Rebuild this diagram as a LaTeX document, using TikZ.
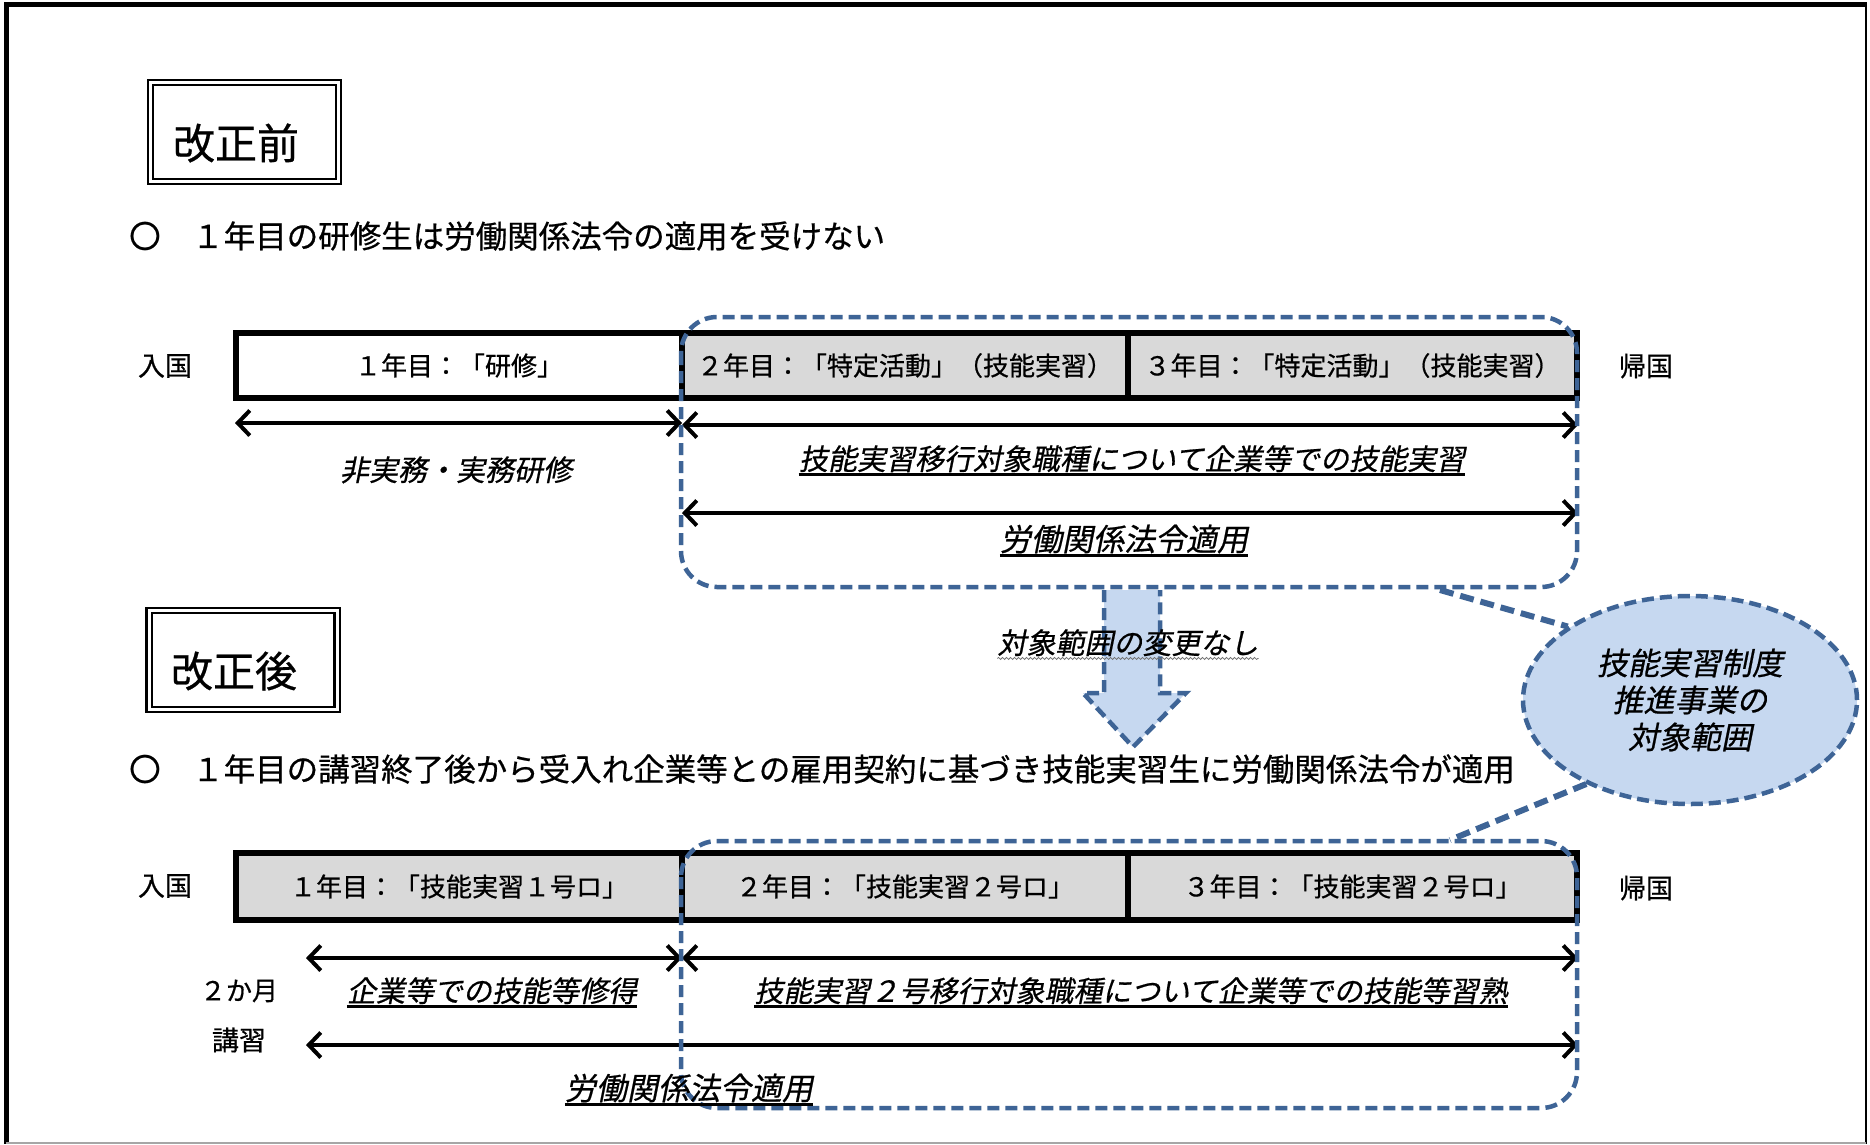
\documentclass[tikz,border=0pt]{standalone}
\usepackage{fontspec}
\setmainfont[FakeBold=0.6]{Noto Sans CJK JP}
\newfontfamily\jpit[FakeSlant=0.2,FakeBold=0.6]{Noto Sans CJK JP}
\usetikzlibrary{arrows.meta,shapes.geometric,decorations.pathmorphing}
\newcommand\fsz[1]{\fontsize{#1}{#1}\selectfont}
\definecolor{dblue}{RGB}{62,100,150}
\definecolor{lblue}{RGB}{198,216,240}
\definecolor{cellgray}{RGB}{217,217,217}
\begin{document}
\begin{tikzpicture}[x=1pt,y=-1pt,
  >={Straight Barb[length=12pt,width=25pt]},
  spanarrow/.style={line width=4pt,<->},
  yearcell/.style={draw=black,line width=6pt,minimum height=65pt,inner sep=0pt,font=\fsz{26}},
  scopebox/.style={draw=dblue,line width=4.5pt,dash pattern=on 12pt off 6pt,rounded corners=36pt},
  dashblue/.style={draw=dblue,line width=4.5pt,dash pattern=on 12pt off 6pt},
  itx/.style={font=\jpit\fsz{29},inner xsep=0pt,inner ysep=2pt,text height=24pt,text depth=2.5pt},
  itxl/.style={font=\jpit\fsz{31},inner xsep=0pt,inner ysep=2pt,text height=26pt,text depth=2.5pt},
  ulined/.style={append after command={(\tikzlastnode.south west) edge[line width=3.5pt] (\tikzlastnode.south east)}},
  sidelabel/.style={font=\fsz{27},inner sep=0pt},
  titlebox/.style={draw=black,line width=2.2pt,double=white,double distance=3pt,minimum width=188pt,minimum height=99pt},
  titletext/.style={font=\fsz{42},inner sep=0pt},
  bulletline/.style={font=\fsz{31.5},inner sep=0pt,anchor=west},
]
\useasboundingbox (0,0) rectangle (1870,1144);
\fill[white] (0,0) rectangle (1870,1144);
% frame
\draw[line width=5pt] (4,4.5) -- (1867,4.5);
\draw[line width=5pt] (6.5,2) -- (6.5,1144);
\draw[line width=2pt] (1865.5,2) -- (1865.5,1144);
\draw[line width=2pt,black!35] (6,1143) -- (1866,1143);

% titles
\node[titlebox] (tb1) at (244.5,132) {};
\node[titletext] (tb1t) at (236,143) {改正前};
\node[titlebox] (tb2) at (243,660) {};
\node[titletext] (tb2t) at (234,671) {改正後};

\node[bulletline] (b1) at (129,236) {〇　１年目の研修生は労働関係法令の適用を受けない};
\node[bulletline] (b2) at (129,769) {〇　１年目の講習終了後から受入れ企業等との雇用契約に基づき技能実習生に労働関係法令が適用};

% row 1
\node[sidelabel] (n1) at (165,366) {入国};
\node[sidelabel] (k1) at (1646,366) {帰国};
\node[yearcell,fill=white,minimum width=446pt] (c11) at (459,365.5) {１年目：「研修」};
\node[yearcell,fill=cellgray,minimum width=446pt] (c12) at (905,365.5) {２年目：「特定活動」（技能実習）};
\node[yearcell,fill=cellgray,minimum width=449pt] (c13) at (1352.5,365.5) {３年目：「特定活動」（技能実習）};

\coordinate (r1a) at (235,423);
\coordinate (r1b) at (682,423);
\coordinate (r1c) at (682,425);
\coordinate (r1d) at (1578,425);
\coordinate (r1e) at (682,513);
\coordinate (r1f) at (1578,513);
\draw[spanarrow] (r1a) -- (r1b);
\draw[spanarrow] (r1c) -- (r1d);
\draw[spanarrow] (r1e) -- (r1f);

% row 2
\node[sidelabel] (n2) at (165,886) {入国};
\node[sidelabel] (k2) at (1646,888) {帰国};
\node[yearcell,fill=cellgray,minimum height=67pt,minimum width=446pt] (c21) at (459,886.5) {１年目：「技能実習１号ロ」};
\node[yearcell,fill=cellgray,minimum height=67pt,minimum width=446pt] (c22) at (905,886.5) {２年目：「技能実習２号ロ」};
\node[yearcell,fill=cellgray,minimum height=67pt,minimum width=449pt] (c23) at (1352.5,886.5) {３年目：「技能実習２号ロ」};

\coordinate (r2a) at (306,958);
\coordinate (r2b) at (682,958);
\coordinate (r2c) at (682,958);
\coordinate (r2d) at (1578,958);
\coordinate (r2e) at (306,1045);
\coordinate (r2f) at (1578,1045);
\draw[spanarrow] (r2a) -- (r2b);
\draw[spanarrow] (r2c) -- (r2d);
\draw[spanarrow] (r2e) -- (r2f);

% down arrow
\fill[lblue] (1104,590) -- (1104,693) -- (1083,693) -- (1133,747) -- (1186,693) -- (1160,693) -- (1160,590) -- cycle;
\draw[dashblue] (1104,590) -- (1104,693) -- (1083,693) -- (1133,747) -- (1186,693) -- (1160,693) -- (1160,590);

% scope boxes
\draw[scopebox] (681,317) rectangle (1577,587);
\draw[scopebox] (681,841) rectangle (1577,1108);

% ellipse callout
\node[ellipse,draw=dblue,fill=lblue,line width=4.5pt,dash pattern=on 12pt off 6pt,minimum width=334pt,minimum height=208pt,align=center,font=\jpit\fontsize{31}{37}\selectfont,inner sep=0pt] (ell) at (1690,700) {技能実習制度\\推進事業の\\対象範囲};
\coordinate (u1) at (1440,590);
\coordinate (l1) at (1450,840);
\draw[draw=dblue,line width=6pt,dash pattern=on 14pt off 7pt] (u1) -- (ell.149);
\draw[draw=dblue,line width=6pt,dash pattern=on 14pt off 7pt] (ell.219) -- (l1);

% italic texts
\node[itx] (t1) at (456,470) {非実務・実務研修};
\node[itx,ulined] (t2) at (1132,459) {技能実習移行対象職種について企業等での技能実習};
\node[itxl,ulined] (t3) at (1124,539) {労働関係法令適用};
\node[itx] (t4) at (1128,643) {対象範囲の変更なし};
\draw[decorate,decoration={snake,amplitude=1pt,segment length=4pt},line width=0.8pt,black!55] (t4.south west) -- (t4.south east);

\node[font=\fsz{26},inner sep=0pt] (m2) at (239,991) {２か月};
\node[sidelabel] (ks) at (239,1040) {講習};
\node[itx,ulined] (t5) at (492,991) {企業等での技能等修得};
\node[itx,ulined] (t6) at (1131,991) {技能実習２号移行対象職種について企業等での技能等習熟};
\node[itxl,ulined] (t7) at (689,1088) {労働関係法令適用};
\end{tikzpicture}
\end{document}
